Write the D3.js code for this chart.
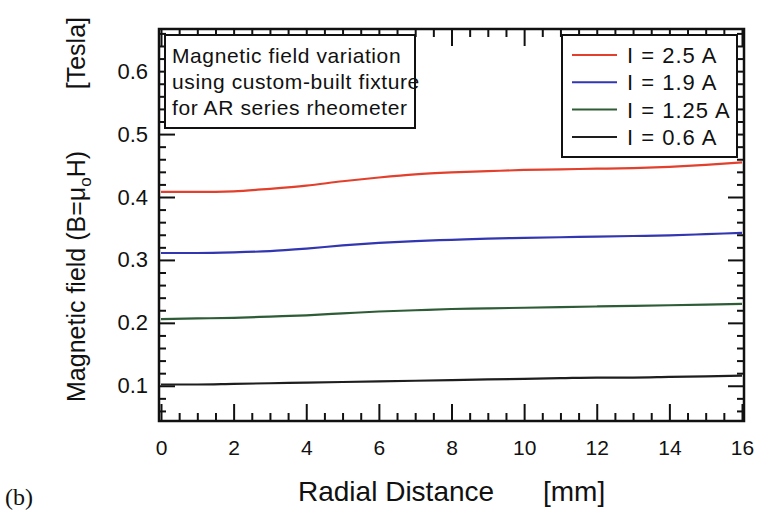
<!DOCTYPE html>
<html>
<body style="margin:0;background:#fff">
    <style>
        body { font-family: "Liberation Sans", Arial, sans-serif; }
        .axis text { font-family: "Liberation Sans", Arial, sans-serif; fill: #111; }
    </style>
    <script src="https://d3js.org/d3.v7.min.js"></script>
    <script>

var radius = [0, 1, 2, 3, 4, 5, 6, 7, 8, 9, 10, 11, 12, 13, 14, 15, 16];

var field25 = [0.408, 0.408, 0.409, 0.413, 0.418, 0.425, 0.431, 0.436, 0.439, 0.441, 0.443, 0.444, 0.445, 0.446, 0.448, 0.451, 0.455];
var field19 = [0.311, 0.311, 0.312, 0.314, 0.318, 0.323, 0.327, 0.330, 0.332, 0.334, 0.335, 0.336, 0.337, 0.338, 0.339, 0.341, 0.343];
var field125 = [0.206, 0.207, 0.208, 0.210, 0.212, 0.215, 0.218, 0.220, 0.222, 0.223, 0.224, 0.225, 0.226, 0.227, 0.228, 0.229, 0.230];
var field06 = [0.102, 0.102, 0.103, 0.104, 0.105, 0.106, 0.107, 0.108, 0.109, 0.110, 0.111, 0.112, 0.113, 0.113, 0.114, 0.115, 0.116];

var seriesNames = ["I = 2.5 A", "I = 1.9 A", "I = 1.25 A", "I = 0.6 A"];
var seriesColors = ["#e2402c", "#3236b0", "#2e5c36", "#1e1e1e"];

var xTicks = [0, 2, 4, 6, 8, 10, 12, 14, 16];
var yTicks = [0.1, 0.2, 0.3, 0.4, 0.5, 0.6];

var noteLines = ["Magnetic field variation", "using custom-built fixture", "for AR series rheometer"];

var width = 759,
    height = 529;

var plotL = 159, plotR = 744, plotT = 29, plotB = 421;

var svg = d3.select("body")
    .append("svg")
    .attr("width", width)
    .attr("height", height)

var x = d3.scaleLinear().domain([0, 16]).range([plotL + 2, plotR - 2]);
var y = d3.scaleLinear().domain([0.044, 0.667]).range([plotB, plotT]);

var xMinor = d3.range(0, 16.01, 0.5).filter(function(d) { return d % 2 !== 0; });
var yMinor = d3.range(0.04, 0.67, 0.02).filter(function(d) {
    return Math.abs(d * 10 - Math.round(d * 10)) > 0.01 && y(d) < plotB - 1 && y(d) > plotT + 1;
});

// frame (drawn first so the ticks sit on top)
svg.append("rect")
    .attr("x", plotL).attr("y", plotT)
    .attr("width", plotR - plotL).attr("height", plotB - plotT)
    .attr("fill", "none").attr("stroke", "#111").attr("stroke-width", 2.5);

function styleTicks(g) {
    g.select(".domain").remove();
    g.selectAll(".tick line").attr("stroke", "#111").attr("stroke-width", 2);
}

// minor ticks
svg.append("g").attr("class", "axis")
    .attr("transform", "translate(0," + plotB + ")")
    .call(d3.axisBottom(x).tickValues(xMinor).tickSize(-8).tickFormat(""))
    .call(styleTicks);
svg.append("g").attr("class", "axis")
    .attr("transform", "translate(0," + plotT + ")")
    .call(d3.axisTop(x).tickValues(xMinor).tickSize(-8).tickFormat(""))
    .call(styleTicks);
svg.append("g").attr("class", "axis")
    .attr("transform", "translate(" + plotL + ",0)")
    .call(d3.axisLeft(y).tickValues(yMinor).tickSize(-7).tickFormat(""))
    .call(styleTicks);
svg.append("g").attr("class", "axis")
    .attr("transform", "translate(" + plotR + ",0)")
    .call(d3.axisRight(y).tickValues(yMinor).tickSize(-7).tickFormat(""))
    .call(styleTicks);

// major ticks
var xb = svg.append("g").attr("class", "axis")
    .attr("transform", "translate(0," + plotB + ")")
    .call(d3.axisBottom(x).tickValues(xTicks).tickSize(-17).tickPadding(19).tickFormat(d3.format("d")))
    .call(styleTicks);
xb.selectAll("text").style("font-size", "21px");

svg.append("g").attr("class", "axis")
    .attr("transform", "translate(0," + plotT + ")")
    .call(d3.axisTop(x).tickValues(xTicks).tickSize(-17).tickFormat(""))
    .call(styleTicks);

var yl = svg.append("g").attr("class", "axis")
    .attr("transform", "translate(" + plotL + ",0)")
    .call(d3.axisLeft(y).tickValues(yTicks).tickSize(-16).tickPadding(11).tickFormat(d3.format(".1f")))
    .call(styleTicks);
yl.selectAll("text").style("font-size", "22px");

svg.append("g").attr("class", "axis")
    .attr("transform", "translate(" + plotR + ",0)")
    .call(d3.axisRight(y).tickValues(yTicks).tickSize(-16).tickFormat(""))
    .call(styleTicks);

// curves
var allSeries = [field25, field19, field125, field06];

var line = d3.line()
    .x(function(d, i) { return x(radius[i]); })
    .y(function(d) { return y(d); })
    .curve(d3.curveMonotoneX);

svg.selectAll(".curve")
    .data(allSeries)
  .enter().append("path")
    .attr("class", "curve")
    .attr("d", line)
    .attr("fill", "none")
    .attr("stroke", function(d, i) { return seriesColors[i]; })
    .attr("stroke-width", 2.2);

// note box
var note = svg.append("g");
note.append("rect")
    .attr("x", 165).attr("y", 35)
    .attr("width", 250).attr("height", 93)
    .attr("fill", "#fff").attr("stroke", "#111").attr("stroke-width", 2);
note.selectAll("text")
    .data(noteLines)
  .enter().append("text")
    .attr("x", 172)
    .attr("y", function(d, i) { return 63 + i * 26; })
    .style("font-size", "21px")
    .style("letter-spacing", "0.6px")
    .style("fill", "#111")
    .text(function(d) { return d; });

// legend
var legend = svg.append("g");
legend.append("rect")
    .attr("x", 562).attr("y", 35)
    .attr("width", 175).attr("height", 122)
    .attr("fill", "#fff").attr("stroke", "#111").attr("stroke-width", 2);

var rows = legend.selectAll(".row")
    .data(seriesNames)
  .enter().append("g")
    .attr("class", "row")
    .attr("transform", function(d, i) { return "translate(0," + (55 + i * 27.3) + ")"; });

rows.append("line")
    .attr("x1", 572).attr("x2", 617)
    .attr("stroke", function(d, i) { return seriesColors[i]; })
    .attr("stroke-width", 2);

rows.append("text")
    .attr("x", 627)
    .attr("dy", "0.36em")
    .style("font-size", "22px")
    .style("letter-spacing", "1px")
    .style("fill", "#111")
    .text(function(d) { return d; });

// axis titles
svg.append("text")
    .attr("x", 298).attr("y", 501)
    .style("font-size", "28px")
    .style("fill", "#111")
    .text("Radial Distance");
svg.append("text")
    .attr("x", 543).attr("y", 501)
    .style("font-size", "28px")
    .style("fill", "#111")
    .text("[mm]");

var yt = svg.append("text")
    .attr("transform", "translate(85,402) rotate(-90)")
    .style("font-size", "25px")
    .style("fill", "#111");
yt.append("tspan").text("Magnetic field (B=\u03bc");
yt.append("tspan").attr("dy", 6).style("font-size", "17px").text("o");
yt.append("tspan").attr("dy", -6).text("H)");

svg.append("text")
    .attr("transform", "translate(85,17) rotate(-90)")
    .attr("text-anchor", "end")
    .style("font-size", "25px")
    .style("fill", "#111")
    .text("[Tesla]");

svg.append("text")
    .attr("x", 5).attr("y", 505)
    .style("font-family", "'Liberation Serif', 'Times New Roman', serif")
    .style("font-size", "24px")
    .style("fill", "#111")
    .text("(b)");

    </script>
</body>
</html>
